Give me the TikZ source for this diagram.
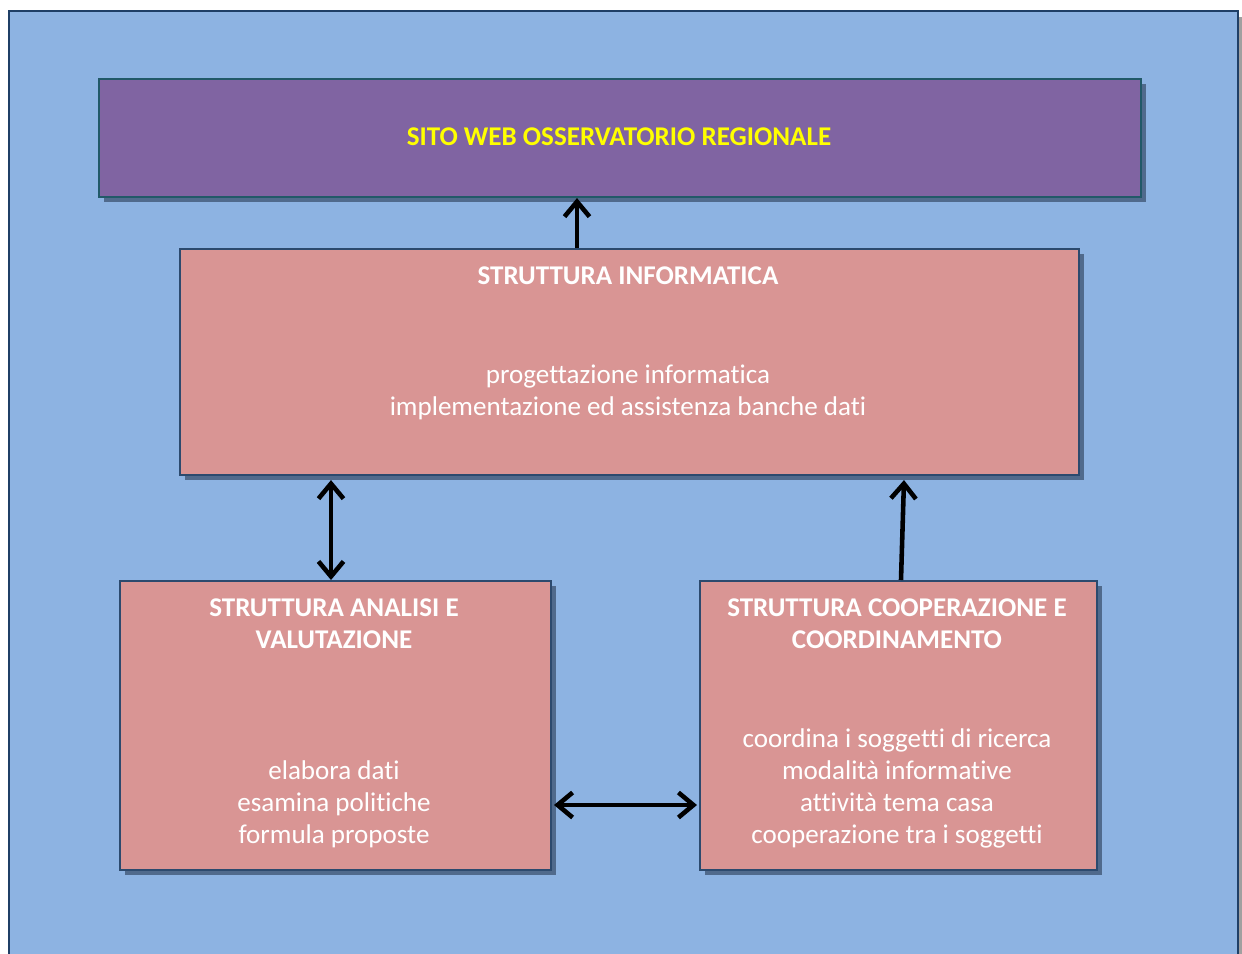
\documentclass[tikz,border=0pt]{standalone}
\usepackage{fontspec}
\setmainfont[Ligatures=NoCommon]{Carlito}
\usepackage{tikz}
\usetikzlibrary{arrows.meta, positioning, calc, shadows}
\definecolor{bgblue}{RGB}{141,179,226}
\definecolor{frameblue}{RGB}{31,63,102}
\definecolor{boxpink}{RGB}{217,149,148}
\definecolor{pinkedge}{RGB}{44,74,110}
\definecolor{sitopurple}{RGB}{128,100,162}
\definecolor{purpleedge}{RGB}{33,89,104}
\definecolor{shadowblue}{RGB}{80,106,140}
\definecolor{sitoyellow}{RGB}{255,255,0}
\definecolor{sidegray}{RGB}{160,160,160}
\tikzset{
  pinkbox/.style={rectangle, draw=pinkedge, fill=boxpink, line width=1.2pt,
    anchor=north west, inner sep=0pt,
    drop shadow={shadow xshift=0.1cm, shadow yshift=-0.1cm, fill=shadowblue, opacity=1}},
  sitobox/.style={rectangle, draw=purpleedge, fill=sitopurple, line width=1.2pt,
    anchor=north west, inner sep=0pt,
    drop shadow={shadow xshift=0.1cm, shadow yshift=-0.1cm, fill=shadowblue, opacity=1}},
  hdr/.style={text=white, align=center, inner sep=0pt,
    font=\fontsize{15.4pt}{18.2pt}\selectfont\bfseries},
  body/.style={text=white, align=center, inner sep=0pt,
    font=\fontsize{15.4pt}{18.2pt}\selectfont},
  arrow/.style={-{Straight Barb[length=0.3cm, width=0.5cm]}, line width=2.6pt, color=black},
  dblarrow/.style={{Straight Barb[length=0.3cm, width=0.5cm]}-{Straight Barb[length=0.3cm, width=0.5cm]}, line width=2.6pt, color=black}
}
\begin{document}
\begin{tikzpicture}[x=0.02cm, y=-0.02cm]
  \useasboundingbox (0,0) rectangle (1242,954);

  % Background panel
  \fill[bgblue] (9,11) rectangle (1238,954);
  \fill[sidegray] (1239,17) rectangle (1242,954);
  \draw[frameblue, line width=1.2pt] (9,954) -- (9,11) -- (1238,11) -- (1238,954);

  % Top Node
  \node[sitobox, minimum width=20.84cm, minimum height=2.36cm] (sito) at (98,78) {};
  \node[hdr, text=sitoyellow] (sitotxt) at (619,137) {SITO WEB OSSERVATORIO REGIONALE};

  % Middle Node
  \node[pinkbox, minimum width=17.98cm, minimum height=4.52cm] (info) at (179,248) {};
  \node[hdr] (infohdr) at (628,276) {STRUTTURA INFORMATICA};
  \node[body] (infotxt) at (628,392) {progettazione informatica\\implementazione ed assistenza banche dati};

  % Bottom Nodes
  \node[pinkbox, minimum width=8.62cm, minimum height=5.78cm] (anal) at (119,580) {};
  \node[hdr] (analhdr) at (334,624) {STRUTTURA ANALISI E\\VALUTAZIONE};
  \node[body] (analtxt) at (334,804) {elabora dati\\esamina politiche\\formula proposte};

  \node[pinkbox, minimum width=7.94cm, minimum height=5.78cm] (coop) at (699,580) {};
  \node[hdr] (coophdr) at (897,624) {STRUTTURA COOPERAZIONE E\\COORDINAMENTO};
  \node[body] (cooptxt) at (897,788) {coordina i soggetti di ricerca\\modalità informative\\attività tema casa\\cooperazione tra i soggetti};

  % Paths
  \draw[arrow] (info.north -| 577,0) -- (sito.south -| 577,0);
  \draw[dblarrow] ([yshift=-0.08cm]info.south -| 331,0) -- (anal.north -| 331,0);
  \draw[arrow] (coop.north -| 901,0) -- ([yshift=-0.08cm]info.south -| 904,0);
  \draw[dblarrow] ([xshift=0.04cm]anal.east |- 0,805) -- ([xshift=-0.04cm]coop.west |- 0,805);
\end{tikzpicture}
\end{document}
